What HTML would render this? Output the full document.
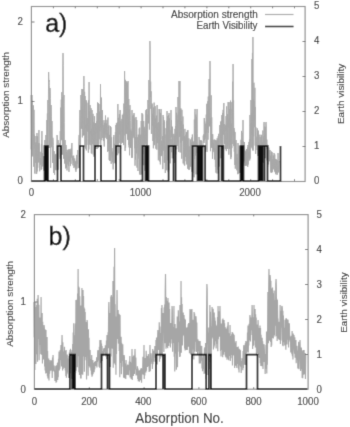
<!DOCTYPE html>
<html><head><meta charset="utf-8"><style>
html,body{margin:0;padding:0;background:#fff;}
svg{display:block;}
text{font-family:"Liberation Sans",sans-serif;fill:#1e1e1e;stroke:#1e1e1e;stroke-width:0.1px;}
text.d{fill:#2c2c2c;stroke:#2c2c2c;}
text.big{fill:#000;stroke:#000;stroke-width:0.35px;}
</style></head><body>
<svg width="350" height="427" viewBox="0 0 350 427">
<defs><filter id="bl" x="0" y="0" width="350" height="427" filterUnits="userSpaceOnUse"><feConvolveMatrix order="3" kernelMatrix="0.0144 0.0912 0.0144 0.0912 0.5776 0.0912 0.0144 0.0912 0.0144" edgeMode="duplicate"/></filter></defs>
<rect width="350" height="427" fill="#fff"/>
<g filter="url(#bl)">
<rect width="350" height="427" fill="#fff"/>
<path d="M31.00,95.0 L31.25,149.4 L31.50,129.9 L31.74,154.6 L31.99,95.0 L32.24,151.0 L32.49,100.6 L32.74,156.4 L32.99,119.7 L33.23,145.0 L33.48,105.4 L33.73,166.7 L33.98,109.8 L34.23,148.9 L34.48,134.7 L34.72,173.5 L34.97,151.0 L35.22,149.6 L35.47,142.6 L35.72,162.9 L35.96,136.0 L36.21,174.0 L36.46,142.5 L36.71,173.7 L36.96,133.0 L37.21,171.4 L37.45,136.3 L37.70,167.7 L37.95,145.2 L38.20,158.7 L38.45,143.4 L38.70,162.5 L38.94,130.0 L39.19,161.8 L39.44,143.0 L39.69,171.3 L39.94,160.5 L40.19,158.5 L40.43,158.2 L40.68,164.7 L40.93,151.8 L41.18,169.8 L41.43,144.3 L41.67,169.0 L41.92,131.0 L42.17,163.7 L42.42,153.0 L42.67,166.4 L42.92,161.7 L43.16,164.0 L43.41,156.2 L43.66,170.6 L43.91,164.5 L44.16,169.4 L44.41,162.7 L44.65,170.1 L44.90,140.0 L45.15,165.2 L45.40,152.0 L45.65,172.1 L45.89,135.0 L46.14,170.6 L46.39,153.0 L46.64,157.0 L46.89,120.0 L47.14,170.9 L47.38,113.4 L47.63,173.2 L47.88,100.0 L48.13,169.7 L48.38,103.2 L48.63,72.0 L48.87,81.9 L49.12,80.0 L49.37,85.3 L49.62,148.0 L49.87,88.8 L50.12,88.0 L50.36,98.5 L50.61,167.8 L50.86,140.1 L51.11,105.0 L51.36,116.6 L51.60,147.2 L51.85,121.6 L52.10,121.0 L52.35,148.2 L52.60,162.9 L52.85,137.7 L53.09,140.0 L53.34,145.5 L53.59,172.9 L53.84,158.9 L54.09,151.0 L54.34,154.4 L54.58,174.8 L54.83,154.6 L55.08,170.0 L55.33,154.8 L55.58,169.1 L55.82,153.9 L56.07,170.3 L56.32,159.8 L56.57,166.5 L56.82,145.7 L57.07,135.0 L57.31,138.0 L57.56,170.0 L57.81,154.6 L58.06,140.0 L58.31,143.6 L58.56,169.6 L58.80,153.2 L59.05,157.1 L59.30,143.3 L59.55,153.9 L59.80,151.3 L60.05,159.0 L60.29,131.1 L60.54,165.4 L60.79,107.6 L61.04,130.9 L61.29,99.6 L61.53,140.2 L61.78,92.2 L62.03,129.7 L62.28,97.0 L62.53,154.6 L62.78,63.9 L63.02,53.0 L63.27,65.4 L63.52,158.7 L63.77,103.5 L64.02,95.0 L64.27,122.7 L64.51,163.5 L64.76,148.4 L65.01,140.0 L65.26,141.3 L65.51,168.4 L65.75,148.2 L66.00,145.0 L66.25,146.4 L66.50,167.9 L66.75,152.0 L67.00,170.4 L67.24,149.8 L67.49,160.0 L67.74,160.1 L67.99,164.3 L68.24,155.5 L68.49,165.8 L68.73,149.4 L68.98,171.9 L69.23,149.3 L69.48,161.5 L69.73,157.2 L69.97,161.0 L70.22,149.3 L70.47,166.1 L70.72,152.2 L70.97,163.9 L71.22,148.4 L71.46,157.5 L71.71,144.3 L71.96,143.0 L72.21,154.3 L72.46,160.3 L72.71,156.3 L72.95,165.4 L73.20,159.3 L73.45,163.1 L73.70,155.6 L73.95,168.0 L74.20,164.0 L74.44,165.7 L74.69,158.4 L74.94,167.0 L75.19,164.0 L75.44,169.8 L75.68,161.4 L75.93,171.8 L76.18,160.7 L76.43,169.3 L76.68,154.9 L76.93,168.6 L77.17,164.7 L77.42,164.4 L77.67,159.2 L77.92,150.0 L78.17,157.5 L78.42,168.1 L78.66,148.0 L78.91,139.0 L79.16,134.9 L79.41,157.0 L79.66,120.1 L79.90,110.0 L80.15,119.0 L80.40,164.1 L80.65,121.6 L80.90,95.0 L81.15,112.7 L81.39,128.8 L81.64,96.2 L81.89,89.0 L82.14,95.4 L82.39,137.4 L82.64,92.5 L82.88,89.0 L83.13,120.3 L83.38,135.5 L83.63,93.1 L83.88,76.0 L84.13,86.6 L84.37,135.0 L84.62,91.8 L84.87,147.1 L85.12,96.0 L85.37,128.2 L85.61,124.8 L85.86,148.7 L86.11,100.0 L86.36,150.4 L86.61,101.5 L86.86,144.9 L87.10,123.4 L87.35,131.5 L87.60,118.2 L87.85,127.0 L88.10,102.8 L88.35,152.7 L88.59,100.2 L88.84,149.4 L89.09,82.0 L89.34,144.6 L89.59,111.2 L89.83,142.7 L90.08,105.0 L90.33,132.7 L90.58,131.1 L90.83,145.2 L91.08,108.2 L91.32,153.2 L91.57,129.0 L91.82,153.6 L92.07,110.0 L92.32,144.2 L92.57,116.0 L92.81,138.8 L93.06,113.8 L93.31,154.8 L93.56,122.4 L93.81,156.6 L94.06,133.5 L94.30,153.7 L94.55,116.2 L94.80,154.8 L95.05,124.6 L95.30,147.0 L95.54,123.0 L95.79,140.3 L96.04,126.6 L96.29,129.4 L96.54,121.1 L96.79,149.0 L97.03,113.1 L97.28,148.8 L97.53,102.4 L97.78,141.5 L98.03,116.6 L98.28,147.9 L98.52,103.2 L98.77,144.3 L99.02,115.0 L99.27,139.3 L99.52,111.6 L99.76,131.0 L100.01,104.0 L100.26,127.3 L100.51,84.0 L100.76,148.9 L101.01,119.2 L101.25,130.1 L101.50,97.6 L101.75,140.2 L102.00,115.2 L102.25,126.9 L102.50,110.0 L102.74,137.9 L102.99,125.0 L103.24,131.9 L103.49,127.9 L103.74,141.1 L103.98,120.2 L104.23,146.5 L104.48,123.4 L104.73,133.9 L104.98,122.7 L105.23,137.8 L105.47,115.5 L105.72,133.9 L105.97,134.7 L106.22,132.7 L106.47,123.6 L106.72,139.1 L106.96,119.8 L107.21,136.5 L107.46,133.5 L107.71,151.8 L107.96,117.5 L108.21,151.0 L108.45,126.4 L108.70,143.4 L108.95,125.3 L109.20,159.9 L109.45,134.9 L109.69,160.8 L109.94,135.2 L110.19,160.8 L110.44,126.1 L110.69,148.4 L110.94,127.1 L111.18,163.8 L111.43,137.4 L111.68,154.7 L111.93,148.1 L112.18,157.2 L112.43,151.7 L112.67,162.3 L112.92,152.4 L113.17,169.4 L113.42,137.0 L113.67,163.6 L113.91,135.0 L114.16,159.0 L114.41,143.8 L114.66,163.1 L114.91,147.8 L115.16,161.3 L115.40,132.1 L115.65,164.7 L115.90,125.0 L116.15,147.5 L116.40,123.2 L116.65,144.9 L116.89,140.6 L117.14,151.3 L117.39,122.1 L117.64,155.2 L117.89,104.0 L118.14,144.8 L118.38,117.8 L118.63,153.3 L118.88,130.9 L119.13,143.0 L119.38,114.2 L119.62,134.4 L119.87,119.1 L120.12,110.0 L120.37,123.4 L120.62,149.0 L120.87,120.9 L121.11,143.8 L121.36,132.2 L121.61,132.4 L121.86,118.9 L122.11,142.4 L122.36,114.8 L122.60,142.8 L122.85,125.6 L123.10,129.6 L123.35,113.5 L123.60,145.1 L123.84,103.6 L124.09,135.4 L124.34,116.1 L124.59,71.0 L124.84,102.1 L125.09,150.9 L125.33,79.8 L125.58,147.7 L125.83,102.6 L126.08,81.0 L126.33,89.4 L126.58,134.1 L126.82,82.4 L127.07,129.0 L127.32,82.7 L127.57,139.8 L127.82,86.1 L128.07,81.0 L128.31,99.8 L128.56,145.0 L128.81,99.0 L129.06,147.4 L129.31,109.4 L129.55,155.3 L129.80,105.4 L130.05,105.0 L130.30,120.6 L130.55,147.9 L130.80,129.7 L131.04,146.3 L131.29,131.1 L131.54,157.9 L131.79,127.7 L132.04,110.0 L132.29,135.0 L132.53,157.7 L132.78,116.2 L133.03,138.2 L133.28,114.8 L133.53,135.8 L133.77,136.6 L134.02,113.0 L134.27,116.9 L134.52,148.2 L134.77,118.3 L135.02,165.7 L135.26,137.0 L135.51,159.6 L135.76,136.3 L136.01,117.0 L136.26,125.1 L136.51,153.4 L136.75,120.1 L137.00,167.6 L137.25,137.0 L137.50,148.0 L137.75,148.9 L137.99,171.0 L138.24,134.6 L138.49,155.6 L138.74,135.0 L138.99,158.7 L139.24,128.4 L139.48,173.7 L139.73,127.6 L139.98,174.8 L140.23,136.7 L140.48,165.1 L140.73,134.7 L140.97,174.7 L141.22,121.0 L141.47,174.1 L141.72,141.5 L141.97,113.0 L142.22,144.9 L142.46,176.5 L142.71,114.3 L142.96,144.8 L143.21,125.0 L143.46,153.7 L143.70,121.0 L143.95,165.3 L144.20,126.8 L144.45,164.3 L144.70,128.3 L144.95,170.7 L145.19,130.6 L145.44,143.9 L145.69,113.1 L145.94,110.0 L146.19,128.1 L146.44,154.1 L146.68,109.1 L146.93,156.1 L147.18,114.6 L147.43,154.2 L147.68,125.2 L147.92,100.0 L148.17,113.7 L148.42,123.4 L148.67,103.3 L148.92,80.0 L149.17,92.0 L149.41,129.5 L149.66,103.0 L149.91,41.0 L150.16,49.8 L150.41,97.0 L150.66,81.6 L150.90,108.8 L151.15,91.3 L151.40,133.9 L151.65,105.3 L151.90,115.1 L152.15,103.6 L152.39,125.7 L152.64,113.8 L152.89,141.0 L153.14,117.7 L153.39,148.3 L153.63,107.5 L153.88,141.4 L154.13,102.6 L154.38,145.2 L154.63,116.4 L154.88,138.5 L155.12,106.1 L155.37,127.9 L155.62,118.5 L155.87,148.7 L156.12,119.1 L156.37,143.3 L156.61,115.6 L156.86,149.7 L157.11,105.0 L157.36,143.1 L157.61,123.1 L157.85,140.0 L158.10,135.3 L158.35,160.3 L158.60,122.2 L158.85,143.1 L159.10,109.0 L159.34,155.3 L159.59,109.3 L159.84,161.5 L160.09,116.1 L160.34,164.4 L160.59,112.9 L160.83,139.3 L161.08,109.0 L161.33,156.1 L161.58,140.6 L161.83,154.9 L162.08,143.0 L162.32,153.3 L162.57,136.0 L162.82,169.1 L163.07,115.0 L163.32,150.6 L163.56,117.0 L163.81,144.7 L164.06,120.1 L164.31,162.5 L164.56,121.7 L164.81,162.7 L165.05,134.5 L165.30,173.0 L165.55,146.3 L165.80,165.6 L166.05,128.1 L166.30,159.6 L166.54,120.8 L166.79,170.3 L167.04,111.0 L167.29,160.3 L167.54,116.3 L167.78,152.7 L168.03,116.5 L168.28,172.1 L168.53,115.0 L168.78,170.4 L169.03,113.0 L169.27,147.8 L169.52,118.3 L169.77,140.2 L170.02,129.9 L170.27,163.3 L170.52,138.5 L170.76,135.4 L171.01,110.0 L171.26,137.1 L171.51,120.0 L171.76,152.2 L172.01,139.3 L172.25,158.3 L172.50,126.7 L172.75,140.3 L173.00,134.2 L173.25,155.1 L173.49,143.6 L173.74,146.7 L173.99,133.8 L174.24,163.0 L174.49,135.8 L174.74,158.1 L174.98,128.9 L175.23,161.7 L175.48,126.1 L175.73,154.5 L175.98,107.0 L176.23,138.4 L176.47,112.8 L176.72,149.4 L176.97,114.7 L177.22,145.9 L177.47,120.2 L177.71,142.6 L177.96,97.0 L178.21,123.8 L178.46,112.6 L178.71,151.9 L178.96,81.0 L179.20,121.9 L179.45,110.2 L179.70,136.9 L179.95,81.0 L180.20,152.5 L180.45,108.7 L180.69,142.9 L180.94,108.5 L181.19,142.2 L181.44,121.0 L181.69,158.7 L181.93,109.8 L182.18,133.8 L182.43,136.1 L182.68,140.7 L182.93,116.5 L183.18,163.4 L183.42,124.6 L183.67,158.3 L183.92,136.7 L184.17,164.6 L184.42,136.0 L184.67,165.6 L184.91,128.9 L185.16,155.1 L185.41,137.7 L185.66,157.0 L185.91,134.6 L186.16,161.2 L186.40,132.0 L186.65,164.4 L186.90,143.8 L187.15,152.6 L187.40,130.4 L187.64,168.7 L187.89,130.0 L188.14,159.5 L188.39,145.8 L188.64,169.4 L188.89,138.3 L189.13,170.0 L189.38,149.5 L189.63,169.1 L189.88,146.3 L190.13,153.5 L190.38,139.5 L190.62,166.7 L190.87,150.1 L191.12,156.7 L191.37,142.5 L191.62,171.7 L191.86,137.5 L192.11,158.6 L192.36,134.5 L192.61,176.7 L192.86,140.8 L193.11,168.3 L193.35,141.8 L193.60,172.9 L193.85,142.5 L194.10,177.3 L194.35,119.5 L194.60,158.9 L194.84,111.6 L195.09,109.0 L195.34,132.3 L195.59,155.5 L195.84,114.6 L196.09,174.4 L196.33,116.9 L196.58,153.0 L196.83,117.1 L197.08,109.0 L197.33,133.2 L197.57,159.1 L197.82,144.9 L198.07,146.8 L198.32,147.1 L198.57,161.4 L198.82,146.9 L199.06,137.0 L199.31,140.0 L199.56,158.8 L199.81,149.5 L200.06,149.9 L200.31,140.3 L200.55,155.1 L200.80,141.7 L201.05,140.0 L201.30,142.1 L201.55,151.9 L201.79,141.0 L202.04,149.6 L202.29,145.0 L202.54,148.9 L202.79,144.9 L203.04,147.6 L203.28,135.6 L203.53,141.0 L203.78,134.4 L204.03,143.0 L204.28,118.0 L204.53,140.2 L204.77,121.4 L205.02,139.3 L205.27,130.2 L205.52,137.2 L205.77,123.7 L206.02,149.6 L206.26,114.6 L206.51,133.0 L206.76,103.8 L207.01,151.9 L207.26,119.7 L207.50,129.1 L207.75,101.3 L208.00,139.7 L208.25,96.6 L208.50,132.8 L208.75,105.3 L208.99,79.0 L209.24,79.4 L209.49,126.3 L209.74,85.1 L209.99,61.0 L210.24,77.0 L210.48,151.2 L210.73,118.2 L210.98,135.6 L211.23,95.3 L211.48,147.8 L211.72,117.3 L211.97,144.7 L212.22,134.1 L212.47,158.9 L212.72,134.2 L212.97,152.1 L213.21,139.8 L213.46,150.1 L213.71,143.5 L213.96,150.8 L214.21,150.7 L214.46,159.5 L214.70,139.5 L214.95,158.7 L215.20,148.3 L215.45,166.9 L215.70,140.0 L215.94,172.7 L216.19,148.9 L216.44,153.3 L216.69,140.6 L216.94,173.5 L217.19,138.2 L217.43,169.5 L217.68,140.1 L217.93,155.4 L218.18,136.2 L218.43,170.0 L218.68,133.8 L218.92,159.6 L219.17,144.8 L219.42,166.5 L219.67,127.3 L219.92,125.0 L220.17,133.9 L220.41,143.5 L220.66,121.8 L220.91,158.3 L221.16,120.9 L221.41,153.7 L221.65,119.1 L221.90,115.0 L222.15,123.6 L222.40,149.3 L222.65,112.9 L222.90,147.7 L223.14,109.8 L223.39,134.7 L223.64,109.5 L223.89,103.0 L224.14,124.6 L224.39,144.2 L224.63,124.1 L224.88,141.5 L225.13,140.5 L225.38,149.2 L225.63,125.2 L225.87,131.4 L226.12,116.0 L226.37,151.1 L226.62,106.4 L226.87,129.7 L227.12,124.6 L227.36,148.9 L227.61,114.3 L227.86,145.7 L228.11,102.0 L228.36,127.4 L228.61,118.4 L228.85,154.7 L229.10,102.0 L229.35,148.8 L229.60,109.1 L229.85,137.2 L230.10,120.9 L230.34,144.8 L230.59,100.6 L230.84,159.1 L231.09,102.1 L231.34,157.1 L231.58,123.6 L231.83,148.1 L232.08,108.9 L232.33,118.9 L232.58,81.7 L232.83,144.0 L233.07,64.0 L233.32,135.5 L233.57,100.5 L233.82,146.1 L234.07,128.0 L234.32,151.7 L234.56,130.7 L234.81,165.0 L235.06,132.0 L235.31,168.7 L235.56,142.6 L235.80,165.4 L236.05,140.0 L236.30,164.5 L236.55,154.8 L236.80,170.3 L237.05,153.9 L237.29,169.2 L237.54,157.8 L237.79,174.2 L238.04,143.0 L238.29,173.5 L238.54,150.7 L238.78,168.8 L239.03,145.6 L239.28,162.8 L239.53,148.2 L239.78,173.0 L240.03,146.1 L240.27,172.2 L240.52,146.5 L240.77,161.8 L241.02,139.8 L241.27,159.8 L241.51,130.9 L241.76,164.8 L242.01,132.7 L242.26,145.2 L242.51,141.2 L242.76,153.1 L243.00,120.0 L243.25,159.9 L243.50,141.5 L243.75,163.1 L244.00,145.8 L244.25,161.2 L244.49,142.0 L244.74,153.5 L244.99,152.8 L245.24,165.7 L245.49,151.6 L245.73,165.8 L245.98,150.5 L246.23,163.6 L246.48,149.1 L246.73,165.7 L246.98,149.4 L247.22,161.5 L247.47,147.4 L247.72,166.9 L247.97,145.0 L248.22,164.5 L248.47,152.2 L248.71,158.0 L248.96,141.9 L249.21,159.3 L249.46,139.3 L249.71,160.5 L249.95,115.0 L250.20,158.6 L250.45,123.7 L250.70,140.4 L250.95,100.0 L251.20,147.5 L251.44,113.1 L251.69,134.5 L251.94,59.0 L252.19,148.5 L252.44,52.9 L252.69,150.3 L252.93,37.0 L253.18,150.5 L253.43,99.3 L253.68,136.4 L253.93,82.7 L254.18,127.3 L254.42,101.5 L254.67,120.3 L254.92,87.8 L255.17,145.6 L255.42,106.9 L255.66,153.9 L255.91,127.3 L256.16,146.3 L256.41,142.7 L256.66,145.5 L256.91,136.6 L257.15,150.1 L257.40,128.4 L257.65,155.9 L257.90,132.3 L258.15,151.2 L258.40,130.6 L258.64,156.2 L258.89,137.0 L259.14,149.2 L259.39,143.8 L259.64,152.9 L259.88,134.6 L260.13,150.5 L260.38,146.5 L260.63,154.9 L260.88,137.1 L261.13,156.3 L261.37,134.8 L261.62,153.0 L261.87,149.5 L262.12,157.0 L262.37,142.3 L262.62,149.6 L262.86,130.5 L263.11,145.5 L263.36,136.4 L263.61,162.7 L263.86,123.4 L264.11,122.0 L264.35,132.4 L264.60,151.4 L264.85,126.5 L265.10,144.1 L265.35,127.2 L265.59,158.2 L265.84,123.1 L266.09,122.0 L266.34,127.0 L266.59,149.0 L266.84,139.6 L267.08,160.4 L267.33,144.6 L267.58,167.0 L267.83,155.7 L268.08,145.0 L268.33,155.8 L268.57,164.4 L268.82,147.6 L269.07,161.4 L269.32,150.3 L269.57,161.0 L269.81,151.0 L270.06,150.0 L270.31,159.5 L270.56,171.6 L270.81,155.7 L271.06,172.8 L271.30,151.4 L271.55,172.6 L271.80,163.7 L272.05,152.0 L272.30,158.6 L272.55,172.2 L272.79,159.1 L273.04,166.9 L273.29,155.5 L273.54,169.3 L273.79,161.6 L274.04,153.0 L274.28,154.3 L274.53,171.2 L274.78,154.4 L275.03,172.2 L275.28,159.2 L275.52,174.2 L275.77,158.9 L276.02,173.5 L276.27,159.5 L276.52,172.8 L276.77,160.1 L277.01,174.9 L277.26,160.2 L277.51,174.3 L277.76,164.5 L278.01,153.0 L278.26,158.6 L278.50,172.4 L278.75,163.3 L279.00,161.0" fill="none" stroke="#a8a8a8" stroke-width="0.95" stroke-linejoin="bevel"/>
<rect x="31.4" y="6.5" width="273.7" height="175" fill="none" stroke="#8a8a8a" stroke-width="1.15"/>
<path d=" M53.4,181 v-1.8 M53.4,6.5 v1.8 M75.3,181 v-1.8 M75.3,6.5 v1.8 M97.3,181 v-1.8 M97.3,6.5 v1.8 M119.2,181 v-1.8 M119.2,6.5 v1.8 M141.1,181 v-1.8 M141.1,6.5 v1.8 M163.0,181 v-1.8 M163.0,6.5 v1.8 M184.9,181 v-1.8 M184.9,6.5 v1.8 M206.9,181 v-1.8 M206.9,6.5 v1.8 M228.8,181 v-1.8 M228.8,6.5 v1.8 M250.7,181 v-1.8 M250.7,6.5 v1.8 M272.6,181 v-1.8 M272.6,6.5 v1.8 M294.5,181 v-1.8 M294.5,6.5 v1.8 M31.5,101.5 h3 M31.5,22.0 h3 M305.5,146.5 h-3 M305.5,111.5 h-3 M305.5,76.5 h-3 M305.5,41.5 h-3" stroke="#777" stroke-width="1" fill="none"/>
<path d="M31.5,181.0 H44.5 V146.0 H45.5 V181.0 V146.0 H46.5 V181.0 V146.0 H47.2 V181.0 V146.0 H48.0 V181.0 H57.5 V146.0 H61.0 V181.0 H80.0 V146.0 H83.5 V181.0 H95.0 V146.0 H101.0 V181.0 H116.0 V146.0 H120.5 V181.0 H142.5 V146.0 H145.5 V181.0 V146.0 H146.5 V181.0 V146.0 H147.5 V181.0 V146.0 H148.5 V181.0 H168.6 V146.0 H173.5 V181.0 V146.0 H175.6 V181.0 H192.5 V146.0 H197.5 V181.0 V146.0 H198.5 V181.0 V146.0 H199.5 V181.0 V146.0 H200.5 V181.0 V146.0 H201.5 V181.0 V146.0 H202.5 V181.0 V146.0 H205.2 V181.0 H218.6 V146.0 H221.6 V181.0 V146.0 H223.4 V181.0 H240.5 V146.0 H241.5 V181.0 V146.0 H242.5 V181.0 V146.0 H243.5 V181.0 H258.5 V146.0 H259.5 V181.0 V146.0 H260.5 V181.0 V146.0 H261.5 V181.0 V146.0 H262.5 V181.0 V146.0 H264.5 V181.0 V146.0 H267.5 V181.0 H280.5 V146 V181" fill="none" stroke="#111" stroke-width="1.7"/>
<text transform="translate(45.2,31.6) scale(1,1.0)" font-size="25" text-anchor="start" class="big">a)</text>
<text transform="translate(257.8,18) scale(1,1.0)" font-size="10" text-anchor="end">Absorption strength</text>
<text transform="translate(257.5,29.4) scale(1,1.12)" font-size="9.75" text-anchor="end">Earth Visibility</text>
<path d="M265,14.5 H293.5" stroke="#a9a9a9" stroke-width="1.2"/>
<path d="M265,26.5 H293.5" stroke="#111" stroke-width="1.5"/>
<text transform="translate(9.3,94.9) rotate(-90) scale(1.0,1)" font-size="9.9" text-anchor="middle">Absorption strength</text>
<text transform="translate(344.0,93.9) rotate(-90) scale(1.0,1)" font-size="9.9" text-anchor="middle">Earth visibility</text>
<path d="M34.00,302.0 L34.27,337.2 L34.54,334.6 L34.82,370.0 L35.09,302.0 L35.36,358.3 L35.63,317.3 L35.91,363.9 L36.18,306.9 L36.45,354.3 L36.72,305.0 L36.99,352.8 L37.27,298.8 L37.54,361.8 L37.81,317.8 L38.08,295.0 L38.36,309.2 L38.63,338.9 L38.90,304.8 L39.17,360.3 L39.45,322.2 L39.72,345.1 L39.99,317.6 L40.26,344.0 L40.53,331.4 L40.81,353.9 L41.08,297.0 L41.35,354.8 L41.62,317.0 L41.90,346.1 L42.17,313.0 L42.44,363.4 L42.71,321.8 L42.98,348.2 L43.26,329.7 L43.53,359.4 L43.80,335.8 L44.07,325.0 L44.35,327.7 L44.62,366.4 L44.89,345.2 L45.16,370.4 L45.44,329.5 L45.71,373.4 L45.98,330.1 L46.25,373.0 L46.52,344.3 L46.80,361.7 L47.07,337.0 L47.34,376.3 L47.61,350.9 L47.89,378.4 L48.16,365.1 L48.43,375.4 L48.70,358.5 L48.97,380.5 L49.25,366.9 L49.52,373.7 L49.79,368.4 L50.06,360.0 L50.34,364.7 L50.61,370.8 L50.88,365.3 L51.15,370.4 L51.43,360.8 L51.70,369.9 L51.97,360.0 L52.24,377.9 L52.51,357.5 L52.79,371.5 L53.06,355.0 L53.33,368.7 L53.60,367.7 L53.88,370.7 L54.15,365.5 L54.42,371.6 L54.69,370.4 L54.96,380.9 L55.24,374.5 L55.51,380.7 L55.78,365.8 L56.05,382.8 L56.33,368.1 L56.60,382.1 L56.87,365.0 L57.14,373.0 L57.42,363.0 L57.69,379.9 L57.96,362.3 L58.23,377.2 L58.50,358.8 L58.78,366.1 L59.05,351.6 L59.32,370.4 L59.59,360.3 L59.87,368.8 L60.14,349.9 L60.41,359.9 L60.68,355.9 L60.95,345.0 L61.23,351.4 L61.50,366.5 L61.77,348.2 L62.04,335.0 L62.32,346.7 L62.59,370.6 L62.86,342.3 L63.13,368.9 L63.41,354.0 L63.68,367.4 L63.95,351.5 L64.22,363.0 L64.49,346.8 L64.77,368.1 L65.04,350.7 L65.31,370.4 L65.58,360.9 L65.86,375.9 L66.13,350.0 L66.40,377.7 L66.67,357.8 L66.94,372.4 L67.22,354.6 L67.49,372.4 L67.76,358.6 L68.03,374.2 L68.31,362.2 L68.58,378.0 L68.85,356.1 L69.12,368.1 L69.40,352.3 L69.67,365.9 L69.94,350.0 L70.21,369.2 L70.48,348.8 L70.76,373.4 L71.03,350.0 L71.30,378.8 L71.57,354.2 L71.85,372.7 L72.12,351.8 L72.39,370.4 L72.66,344.0 L72.93,369.6 L73.21,332.6 L73.48,354.3 L73.75,323.3 L74.02,352.8 L74.30,344.2 L74.57,366.9 L74.84,335.3 L75.11,357.3 L75.39,323.4 L75.66,373.2 L75.93,300.0 L76.20,370.7 L76.47,303.0 L76.75,334.8 L77.02,299.5 L77.29,367.2 L77.56,293.4 L77.84,336.4 L78.11,269.0 L78.38,356.2 L78.65,286.6 L78.92,372.2 L79.20,287.6 L79.47,374.9 L79.74,296.2 L80.01,341.5 L80.29,308.1 L80.56,378.5 L80.83,305.4 L81.10,378.4 L81.38,310.4 L81.65,365.9 L81.92,288.0 L82.19,374.3 L82.46,328.7 L82.74,374.8 L83.01,290.0 L83.28,356.5 L83.55,295.9 L83.83,348.0 L84.10,307.4 L84.37,371.7 L84.64,308.7 L84.91,350.7 L85.19,312.0 L85.46,356.9 L85.73,322.8 L86.00,360.3 L86.28,322.0 L86.55,379.5 L86.82,348.5 L87.09,320.0 L87.37,323.3 L87.64,348.6 L87.91,349.3 L88.18,375.7 L88.45,329.2 L88.73,365.9 L89.00,337.7 L89.27,364.6 L89.54,349.7 L89.82,367.4 L90.09,350.0 L90.36,367.3 L90.63,362.0 L90.90,370.6 L91.18,359.0 L91.45,374.6 L91.72,354.9 L91.99,376.7 L92.27,364.9 L92.54,375.4 L92.81,360.0 L93.08,374.1 L93.36,363.0 L93.63,371.9 L93.90,366.5 L94.17,372.3 L94.44,361.7 L94.72,369.4 L94.99,364.4 L95.26,366.0 L95.53,361.1 L95.81,365.7 L96.08,365.1 L96.35,363.5 L96.62,357.2 L96.89,367.4 L97.17,359.7 L97.44,362.0 L97.71,351.5 L97.98,350.0 L98.26,355.3 L98.53,360.5 L98.80,350.7 L99.07,366.8 L99.35,346.8 L99.62,367.8 L99.89,340.0 L100.16,363.3 L100.43,351.0 L100.71,359.4 L100.98,340.0 L101.25,362.8 L101.52,343.5 L101.80,356.7 L102.07,345.9 L102.34,360.9 L102.61,351.0 L102.88,356.5 L103.16,352.6 L103.43,355.9 L103.70,348.6 L103.97,355.6 L104.25,348.1 L104.52,350.8 L104.79,350.6 L105.06,352.1 L105.34,345.3 L105.61,356.4 L105.88,347.6 L106.15,355.4 L106.42,340.6 L106.70,359.1 L106.97,335.0 L107.24,356.6 L107.51,344.9 L107.79,348.0 L108.06,332.3 L108.33,348.2 L108.60,312.9 L108.87,302.0 L109.15,317.9 L109.42,365.5 L109.69,316.2 L109.96,353.4 L110.24,313.1 L110.51,367.1 L110.78,296.5 L111.05,356.5 L111.33,295.1 L111.60,348.1 L111.87,296.7 L112.14,348.5 L112.41,315.9 L112.69,348.7 L112.96,281.0 L113.23,367.7 L113.50,281.5 L113.78,315.0 L114.05,266.8 L114.32,363.6 L114.59,248.0 L114.86,347.7 L115.14,304.2 L115.41,364.9 L115.68,324.5 L115.95,374.8 L116.23,316.4 L116.50,354.0 L116.77,329.0 L117.04,290.0 L117.32,321.8 L117.59,339.1 L117.86,328.4 L118.13,310.0 L118.40,343.6 L118.68,343.2 L118.95,313.7 L119.22,351.1 L119.49,314.5 L119.77,377.2 L120.04,315.0 L120.31,357.9 L120.58,350.3 L120.85,363.0 L121.13,336.7 L121.40,374.2 L121.67,342.8 L121.94,354.3 L122.22,348.8 L122.49,360.8 L122.76,344.3 L123.03,366.7 L123.31,358.4 L123.58,377.7 L123.85,363.5 L124.12,355.0 L124.39,357.2 L124.67,378.2 L124.94,363.6 L125.21,378.0 L125.48,369.3 L125.76,378.9 L126.03,360.0 L126.30,372.4 L126.57,365.6 L126.84,375.0 L127.12,369.1 L127.39,374.7 L127.66,364.6 L127.93,373.5 L128.21,365.7 L128.48,375.2 L128.75,364.9 L129.02,370.2 L129.30,361.6 L129.57,370.0 L129.84,356.1 L130.11,377.5 L130.38,361.8 L130.66,373.1 L130.93,364.0 L131.20,379.1 L131.47,362.5 L131.75,368.7 L132.02,349.0 L132.29,380.1 L132.56,356.8 L132.83,364.0 L133.11,357.5 L133.38,376.1 L133.65,355.4 L133.92,368.2 L134.20,355.6 L134.47,374.1 L134.74,357.0 L135.01,349.0 L135.29,363.0 L135.56,369.5 L135.83,357.6 L136.10,375.5 L136.37,368.9 L136.65,375.2 L136.92,373.3 L137.19,374.0 L137.46,366.2 L137.74,378.9 L138.01,368.5 L138.28,381.2 L138.55,370.4 L138.82,374.5 L139.10,373.5 L139.37,381.8 L139.64,370.3 L139.91,380.5 L140.19,375.3 L140.46,379.9 L140.73,368.7 L141.00,379.1 L141.28,367.9 L141.55,382.7 L141.82,369.8 L142.09,372.7 L142.36,369.3 L142.64,373.9 L142.91,356.8 L143.18,374.7 L143.45,359.0 L143.73,368.5 L144.00,345.0 L144.27,379.1 L144.54,362.2 L144.81,375.6 L145.09,358.0 L145.36,371.7 L145.63,359.2 L145.90,372.5 L146.18,350.8 L146.45,370.8 L146.72,355.8 L146.99,365.4 L147.27,356.0 L147.54,367.1 L147.81,356.8 L148.08,366.0 L148.35,354.0 L148.63,362.9 L148.90,361.4 L149.17,372.0 L149.44,358.4 L149.72,362.3 L149.99,345.0 L150.26,371.2 L150.53,354.7 L150.80,361.9 L151.08,353.2 L151.35,358.4 L151.62,359.1 L151.89,363.9 L152.17,358.6 L152.44,368.9 L152.71,348.9 L152.98,364.2 L153.26,350.8 L153.53,356.8 L153.80,351.7 L154.07,361.7 L154.34,350.4 L154.62,355.1 L154.89,346.1 L155.16,357.8 L155.43,347.7 L155.71,362.0 L155.98,340.0 L156.25,364.1 L156.52,337.4 L156.79,361.9 L157.07,337.4 L157.34,364.6 L157.61,338.1 L157.88,330.0 L158.16,346.3 L158.43,349.9 L158.70,335.7 L158.97,345.4 L159.25,322.3 L159.52,361.7 L159.79,326.6 L160.06,358.9 L160.33,338.2 L160.61,353.5 L160.88,332.9 L161.15,357.3 L161.42,307.9 L161.70,345.5 L161.97,305.0 L162.24,355.1 L162.51,328.2 L162.78,325.0 L163.06,312.9 L163.33,320.5 L163.60,323.5 L163.87,351.9 L164.15,307.5 L164.42,327.5 L164.69,304.6 L164.96,343.3 L165.24,292.3 L165.51,274.0 L165.78,309.6 L166.05,348.8 L166.32,296.9 L166.60,343.3 L166.87,318.4 L167.14,347.3 L167.41,300.8 L167.69,348.3 L167.96,298.0 L168.23,342.4 L168.50,322.6 L168.77,346.0 L169.05,302.6 L169.32,338.0 L169.59,308.9 L169.86,342.8 L170.14,322.9 L170.41,347.4 L170.68,323.1 L170.95,343.5 L171.23,328.3 L171.50,339.3 L171.77,331.1 L172.04,306.0 L172.31,310.6 L172.59,351.7 L172.86,327.8 L173.13,342.9 L173.40,326.9 L173.68,341.8 L173.95,306.0 L174.22,356.8 L174.49,326.9 L174.76,371.6 L175.04,324.0 L175.31,353.5 L175.58,344.4 L175.85,350.7 L176.13,328.2 L176.40,369.7 L176.67,341.9 L176.94,354.2 L177.22,316.5 L177.49,367.3 L177.76,336.1 L178.03,351.7 L178.30,310.3 L178.58,333.8 L178.85,321.5 L179.12,342.2 L179.39,328.4 L179.67,356.9 L179.94,305.0 L180.21,356.6 L180.48,310.3 L180.75,345.3 L181.03,281.0 L181.30,352.7 L181.57,297.2 L181.84,345.6 L182.12,304.0 L182.39,345.5 L182.66,330.7 L182.93,333.0 L183.21,312.4 L183.48,335.4 L183.75,315.9 L184.02,315.0 L184.29,325.8 L184.57,348.4 L184.84,318.8 L185.11,350.4 L185.38,319.8 L185.66,348.9 L185.93,334.3 L186.20,349.9 L186.47,327.5 L186.74,348.5 L187.02,331.8 L187.29,350.0 L187.56,327.2 L187.83,341.1 L188.11,324.2 L188.38,346.7 L188.65,323.1 L188.92,345.9 L189.20,325.7 L189.47,353.2 L189.74,330.3 L190.01,309.0 L190.28,326.3 L190.56,354.6 L190.83,309.7 L191.10,354.4 L191.37,309.6 L191.65,354.2 L191.92,309.0 L192.19,357.5 L192.46,330.8 L192.73,348.5 L193.01,319.8 L193.28,349.6 L193.55,330.7 L193.82,359.6 L194.10,312.0 L194.37,346.2 L194.64,313.6 L194.91,351.7 L195.19,327.5 L195.46,341.7 L195.73,316.3 L196.00,317.0 L196.27,322.9 L196.55,351.9 L196.82,322.5 L197.09,348.3 L197.36,344.5 L197.64,354.3 L197.91,339.2 L198.18,349.1 L198.45,345.4 L198.72,351.2 L199.00,340.7 L199.27,363.5 L199.54,348.5 L199.81,354.2 L200.09,341.0 L200.36,363.5 L200.63,355.1 L200.90,360.6 L201.18,345.7 L201.45,359.1 L201.72,345.9 L201.99,368.4 L202.26,357.5 L202.54,371.2 L202.81,358.2 L203.08,369.3 L203.35,354.3 L203.63,366.2 L203.90,361.5 L204.17,373.9 L204.44,348.2 L204.71,370.7 L204.99,347.0 L205.26,372.9 L205.53,343.1 L205.80,378.9 L206.08,346.1 L206.35,379.6 L206.62,310.9 L206.89,284.0 L207.17,288.9 L207.44,344.2 L207.71,335.4 L207.98,374.9 L208.25,332.4 L208.53,369.6 L208.80,327.6 L209.07,369.1 L209.34,327.4 L209.62,336.3 L209.89,305.0 L210.16,362.0 L210.43,311.7 L210.70,337.0 L210.98,326.5 L211.25,357.0 L211.52,330.5 L211.79,338.8 L212.07,307.0 L212.34,329.5 L212.61,309.5 L212.88,337.6 L213.16,308.8 L213.43,349.5 L213.70,318.5 L213.97,347.6 L214.24,312.5 L214.52,345.4 L214.79,317.5 L215.06,331.2 L215.33,320.8 L215.61,341.2 L215.88,324.7 L216.15,348.4 L216.42,326.4 L216.69,335.8 L216.97,326.0 L217.24,344.1 L217.51,317.1 L217.78,351.3 L218.06,306.0 L218.33,339.3 L218.60,329.9 L218.87,331.2 L219.15,311.2 L219.42,336.7 L219.69,327.1 L219.96,306.0 L220.23,322.1 L220.51,350.9 L220.78,330.9 L221.05,356.5 L221.32,323.6 L221.60,350.1 L221.87,335.2 L222.14,347.1 L222.41,319.6 L222.68,357.2 L222.96,318.6 L223.23,344.7 L223.50,334.6 L223.77,354.7 L224.05,320.0 L224.32,351.0 L224.59,323.3 L224.86,352.0 L225.14,327.0 L225.41,356.4 L225.68,335.5 L225.95,357.6 L226.22,328.4 L226.50,352.1 L226.77,342.4 L227.04,359.8 L227.31,326.6 L227.59,358.5 L227.86,326.1 L228.13,322.0 L228.40,338.7 L228.67,360.3 L228.95,336.4 L229.22,356.0 L229.49,333.2 L229.76,354.7 L230.04,325.0 L230.31,360.9 L230.58,336.1 L230.85,358.2 L231.13,341.5 L231.40,355.1 L231.67,334.2 L231.94,346.0 L232.21,332.0 L232.49,365.5 L232.76,332.7 L233.03,355.5 L233.30,333.8 L233.58,355.3 L233.85,335.1 L234.12,335.0 L234.39,344.7 L234.66,367.9 L234.94,342.6 L235.21,352.2 L235.48,349.6 L235.75,365.7 L236.03,341.0 L236.30,363.6 L236.57,353.7 L236.84,368.1 L237.12,346.9 L237.39,363.0 L237.66,354.6 L237.93,364.0 L238.20,346.4 L238.48,369.4 L238.75,349.5 L239.02,372.4 L239.29,348.8 L239.57,365.4 L239.84,350.3 L240.11,350.0 L240.38,351.0 L240.65,366.7 L240.93,358.1 L241.20,373.0 L241.47,363.4 L241.74,362.5 L242.02,361.0 L242.29,364.3 L242.56,358.3 L242.83,370.3 L243.11,351.1 L243.38,367.9 L243.65,346.8 L243.92,345.0 L244.19,350.2 L244.47,364.5 L244.74,351.4 L245.01,365.0 L245.28,343.2 L245.56,365.1 L245.83,341.1 L246.10,353.3 L246.37,341.5 L246.64,352.9 L246.92,345.6 L247.19,351.8 L247.46,332.5 L247.73,342.2 L248.01,325.4 L248.28,352.6 L248.55,338.2 L248.82,345.6 L249.10,323.8 L249.37,340.3 L249.64,330.9 L249.91,315.0 L250.18,317.2 L250.46,341.5 L250.73,323.8 L251.00,335.1 L251.27,317.6 L251.55,330.3 L251.82,321.5 L252.09,305.0 L252.36,316.3 L252.63,349.1 L252.91,317.3 L253.18,346.1 L253.45,330.0 L253.72,345.3 L254.00,305.0 L254.27,331.6 L254.54,311.3 L254.81,340.5 L255.09,309.0 L255.36,347.4 L255.63,314.2 L255.90,339.0 L256.17,317.6 L256.45,354.9 L256.72,324.9 L256.99,349.3 L257.26,324.5 L257.54,353.3 L257.81,337.6 L258.08,320.0 L258.35,333.2 L258.62,354.9 L258.90,328.0 L259.17,357.5 L259.44,336.1 L259.71,358.1 L259.99,325.4 L260.26,363.2 L260.53,327.9 L260.80,366.0 L261.08,334.7 L261.35,362.5 L261.62,338.9 L261.89,366.2 L262.16,337.8 L262.44,364.2 L262.71,341.3 L262.98,369.1 L263.25,347.2 L263.53,362.1 L263.80,344.2 L264.07,345.0 L264.34,350.1 L264.61,361.9 L264.89,353.9 L265.16,373.9 L265.43,362.7 L265.70,368.7 L265.98,345.0 L266.25,361.6 L266.52,331.4 L266.79,373.6 L267.07,339.2 L267.34,364.7 L267.61,335.0 L267.88,292.0 L268.15,328.4 L268.43,343.3 L268.70,288.6 L268.97,269.0 L269.24,289.2 L269.52,340.7 L269.79,277.1 L270.06,275.0 L270.33,279.1 L270.60,342.1 L270.88,280.8 L271.15,347.1 L271.42,288.5 L271.69,345.5 L271.97,296.3 L272.24,337.9 L272.51,287.4 L272.78,333.5 L273.06,293.2 L273.33,338.5 L273.60,301.2 L273.87,335.1 L274.14,290.5 L274.42,314.6 L274.69,314.9 L274.96,336.5 L275.23,300.2 L275.51,325.7 L275.78,284.4 L276.05,279.0 L276.32,287.5 L276.59,336.3 L276.87,298.8 L277.14,340.9 L277.41,300.0 L277.68,319.8 L277.96,318.4 L278.23,338.4 L278.50,325.7 L278.77,339.2 L279.05,321.7 L279.32,340.1 L279.59,323.3 L279.86,338.1 L280.13,305.0 L280.41,343.9 L280.68,310.7 L280.95,340.6 L281.22,320.6 L281.50,327.6 L281.77,307.0 L282.04,306.0 L282.31,308.9 L282.58,345.5 L282.86,310.8 L283.13,346.3 L283.40,315.5 L283.67,342.2 L283.95,330.4 L284.22,338.7 L284.49,327.7 L284.76,345.4 L285.04,319.8 L285.31,344.6 L285.58,319.4 L285.85,349.8 L286.12,318.0 L286.40,334.7 L286.67,318.9 L286.94,344.6 L287.21,321.2 L287.49,339.8 L287.76,319.9 L288.03,320.0 L288.30,331.5 L288.57,347.4 L288.85,323.0 L289.12,339.4 L289.39,323.5 L289.66,339.6 L289.94,337.1 L290.21,341.7 L290.48,339.4 L290.75,352.6 L291.03,335.8 L291.30,352.0 L291.57,336.5 L291.84,354.3 L292.11,331.0 L292.39,356.2 L292.66,338.6 L292.93,359.6 L293.20,333.6 L293.48,348.6 L293.75,337.7 L294.02,335.0 L294.29,350.0 L294.56,353.7 L294.84,337.2 L295.11,357.7 L295.38,342.1 L295.65,357.5 L295.93,340.0 L296.20,363.3 L296.47,352.6 L296.74,359.8 L297.02,345.8 L297.29,359.3 L297.56,350.6 L297.83,368.4 L298.10,352.1 L298.38,365.4 L298.65,341.7 L298.92,369.2 L299.19,358.1 L299.47,359.4 L299.74,356.3 L300.01,340.0 L300.28,350.4 L300.55,371.1 L300.83,353.9 L301.10,369.3 L301.37,347.4 L301.64,359.7 L301.92,351.2 L302.19,378.0 L302.46,359.2 L302.73,378.2 L303.01,350.1 L303.28,374.1 L303.55,350.5 L303.82,374.8 L304.09,350.0 L304.37,374.0 L304.64,359.9 L304.91,371.7 L305.18,353.1 L305.46,379.0 L305.73,354.9 L306.00,355.0" fill="none" stroke="#a6a6a6" stroke-width="1.20" stroke-linejoin="bevel"/>
<rect x="34.4" y="214.6" width="273.7" height="174.6" fill="none" stroke="#8a8a8a" stroke-width="1.15"/>
<path d=" M89.3,389 v-1.8 M89.3,214.6 v1.8 M144.1,389 v-1.8 M144.1,214.6 v1.8 M198.9,389 v-1.8 M198.9,214.6 v1.8 M253.7,389 v-1.8 M253.7,214.6 v1.8 M34.5,302 h3 M308.0,354.5 h-3 M308.0,319.5 h-3 M308.0,284.5 h-3 M308.0,249.5 h-3" stroke="#777" stroke-width="1" fill="none"/>
<path d="M34.5,389.0 H69.8 V354.6 H72.2 V389.0 V354.6 H73.2 V389.0 V354.6 H74.2 V389.0 V354.6 H75.0 V389.0 H101.5 V354.6 H107.5 V389.0 V354.6 H109.5 V389.0 H156.0 V354.6 H163.0 V389.0 V354.6 H165.0 V389.0 H192.0 V354.6 H206.2 V389.0 H208.8 V354.6 H211.0 V389.0 H246.5 V354.6 H257.5 V389.0 H307.3" fill="none" stroke="#111" stroke-width="1.7"/>
<text transform="translate(48.5,244.5) scale(1,1.0)" font-size="25" text-anchor="start" class="big">b)</text>
<text transform="translate(12.7,303.9) rotate(-90) scale(1.0,1)" font-size="9.9" text-anchor="middle">Absorption strength</text>
<text transform="translate(347.1,302.6) rotate(-90) scale(1.0,1)" font-size="9.9" text-anchor="middle">Earth visibility</text>
<text transform="translate(23,25.3) scale(1,1.1)" font-size="9.7" text-anchor="end" class="d">2</text>
<text transform="translate(23,103.5) scale(1,1.1)" font-size="9.7" text-anchor="end" class="d">1</text>
<text transform="translate(23,184.3) scale(1,1.1)" font-size="9.7" text-anchor="end" class="d">0</text>
<text transform="translate(314,184.3) scale(1,1.1)" font-size="9.7" text-anchor="start" class="d">0</text>
<text transform="translate(314,149.3) scale(1,1.1)" font-size="9.7" text-anchor="start" class="d">1</text>
<text transform="translate(314,114.30000000000001) scale(1,1.1)" font-size="9.7" text-anchor="start" class="d">2</text>
<text transform="translate(314,79.30000000000001) scale(1,1.1)" font-size="9.7" text-anchor="start" class="d">3</text>
<text transform="translate(314,44.30000000000001) scale(1,1.1)" font-size="9.7" text-anchor="start" class="d">4</text>
<text transform="translate(314,9.300000000000011) scale(1,1.1)" font-size="9.7" text-anchor="start" class="d">5</text>
<text transform="translate(31.5,196.2) scale(1,1.1)" font-size="9.7" text-anchor="middle" class="d">0</text>
<text transform="translate(140.5,196.2) scale(1,1.1)" font-size="9.7" text-anchor="middle" class="d">1000</text>
<text transform="translate(250,196.2) scale(1,1.1)" font-size="9.7" text-anchor="middle" class="d">2000</text>
<text transform="translate(26,217.5) scale(1,1.1)" font-size="9.7" text-anchor="end" class="d">2</text>
<text transform="translate(26,305) scale(1,1.1)" font-size="9.7" text-anchor="end" class="d">1</text>
<text transform="translate(26,392.5) scale(1,1.1)" font-size="9.7" text-anchor="end" class="d">0</text>
<text transform="translate(316.5,392.5) scale(1,1.1)" font-size="9.7" text-anchor="start" class="d">0</text>
<text transform="translate(316.5,357.5) scale(1,1.1)" font-size="9.7" text-anchor="start" class="d">1</text>
<text transform="translate(316.5,322.5) scale(1,1.1)" font-size="9.7" text-anchor="start" class="d">2</text>
<text transform="translate(316.5,287.5) scale(1,1.1)" font-size="9.7" text-anchor="start" class="d">3</text>
<text transform="translate(316.5,252.5) scale(1,1.1)" font-size="9.7" text-anchor="start" class="d">4</text>
<text transform="translate(316.5,217.5) scale(1,1.1)" font-size="9.7" text-anchor="start" class="d">5</text>
<text transform="translate(34.5,404.7) scale(1,1.1)" font-size="9.7" text-anchor="middle" class="d">0</text>
<text transform="translate(89.3,404.7) scale(1,1.1)" font-size="9.7" text-anchor="middle" class="d">200</text>
<text transform="translate(143.3,404.7) scale(1,1.1)" font-size="9.7" text-anchor="middle" class="d">400</text>
<text transform="translate(198.8,404.7) scale(1,1.1)" font-size="9.7" text-anchor="middle" class="d">600</text>
<text transform="translate(253.5,404.7) scale(1,1.1)" font-size="9.7" text-anchor="middle" class="d">800</text>
<text transform="translate(308,404.7) scale(1,1.1)" font-size="9.7" text-anchor="middle" class="d">1000</text>
<text transform="translate(135.2,423.3) scale(1,1.08)" font-size="13.4" text-anchor="start">Absorption No.</text>
</g>
</svg>
</body></html>
